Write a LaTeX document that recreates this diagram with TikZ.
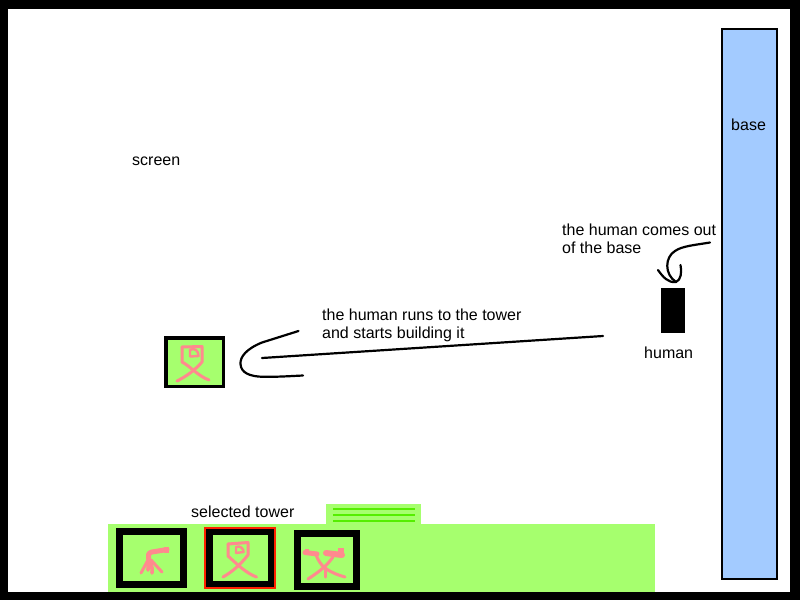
\documentclass[tikz,border=0pt]{standalone}
\usepackage{fontspec}
\setmainfont{Liberation Sans}
\definecolor{grassgreen}{HTML}{A6FF6E}
\definecolor{stripegreen}{HTML}{55EE00}
\definecolor{basefill}{HTML}{A3CBFF}
\definecolor{sketchpink}{HTML}{FF8A8E}
\definecolor{selred}{HTML}{FF2000}
\tikzset{
  lbl/.style={inner sep=0pt,anchor=base west,font=\fontsize{16}{16}\selectfont,text=black},
  towerbox/.style={draw=black,fill=grassgreen,line width=7pt},
  pencil/.style={draw=black,line width=2.2pt,line cap=round,line join=round},
  pinkline/.style={draw=sketchpink,line width=3pt,line cap=round,line join=round},
  pinkthick/.style={draw=sketchpink,line width=5pt,line cap=round,line join=round},
  stripe/.style={draw=stripegreen,line width=2pt}
}
\begin{document}
\begin{tikzpicture}[x=1pt,y=-1pt]
\useasboundingbox (0,0) rectangle (800,600);
% frame
\fill[black] (0,0) rectangle (800,600);
\fill[white] (8,9) rectangle (790,592);
% bar and tab
\fill[grassgreen] (108,524) rectangle (655,592);
\fill[grassgreen] (326,504) rectangle (421,524);
\draw[stripe] (333,508.5) -- (415,508.5);
\draw[stripe] (333,514.5) -- (415,514.5);
\draw[stripe] (333,521) -- (415,521);
% base
\node[draw=black,fill=basefill,line width=2pt,inner sep=0pt,minimum width=55pt,minimum height=550pt] (base) at (749.5,304) {};
% human
\node[fill=black,inner sep=0pt,minimum width=24pt,minimum height=45pt] (human) at (673,310.5) {};
% towers
\draw[towerbox] (119.5,531.5) rectangle (183.5,584.5);
\draw[towerbox] (209.5,531.5) rectangle (271,584.5);
\draw[selred,line width=2pt] (205,528) rectangle (275,588);
\draw[towerbox] (297.5,533.5) rectangle (356.5,586.5);
\draw[draw=black,fill=grassgreen,line width=3.5pt] (165.75,337.75) rectangle (223.25,386.25);
% tower 1 figure
\draw[pinkthick] (167,549.5) -- (155,551.5) .. controls (150,552) and (148,553) .. (148.5,557) -- (149,561);
\fill[sketchpink] (164,546.5) rectangle (169,552.5);
\draw[pinkline] (148,560) -- (141,573);
\draw[pinkthick,line width=3.6pt] (149,561) .. controls (148,565) and (148,568) .. (148,570);
\draw[pinkthick,line width=3.6pt] (150,562) .. controls (152,566) and (152.5,569) .. (152,573);
\draw[pinkline] (151,560) -- (162,572);
% tower 2 figure
\draw[pinkline] (228,544) -- (248,542.5) -- (248,555) .. controls (240,565) and (232,572) .. (223,577);
\draw[pinkline] (228,544) -- (228,556) .. controls (238,565) and (246,573) .. (256.5,577);
\draw[pinkline,line width=2.4pt] (236,553) -- (236,547) .. controls (240,545) and (244,549) .. (243.5,552) -- (236,553);
% screen tower figure
\draw[pinkline] (182,347) -- (202,346.5) -- (202,362) .. controls (195,370) and (187,376) .. (177,381);
\draw[pinkline] (182,347) -- (182,362) .. controls (190,366) and (198,376) .. (209,380);
\draw[pinkline,line width=2.4pt] (190,356.5) -- (190,350) .. controls (194,347) and (199,351) .. (198.5,356) -- (190,356.5);
% tower 3 figure
\draw[pinkthick] (305,552.5) -- (317,554);
\draw[pinkthick,line width=6pt] (326,553) -- (342,555);
\fill[sketchpink] (338,547.5) rectangle (344,556);
\fill[sketchpink] (305,549) rectangle (309,552);
\draw[pinkline] (316,555) .. controls (318,560) and (321,565) .. (325,568) .. controls (332,573) and (338,575) .. (345,577);
\draw[pinkline] (333,557) .. controls (328,564) and (322,570) .. (308,579);
\draw[pinkline] (325,568) -- (325,577);
% connector: out of the base
\coordinate (baseexit) at (710,242.5);
\coordinate (headleft) at (658,270);
\coordinate (headright) at (680.5,265);
\coordinate (tipa) at (676,282);
\draw[pencil] (baseexit) .. controls (695,245) and (682,246) .. (675,251) .. controls (665,257) and (664,274) .. (tipa);
\draw[pencil] (headleft) .. controls (663,277) and (668,283) .. (tipa) .. controls (681,280) and (682,272) .. (headright);
% connector: run to tower
\coordinate (runstart) at (603,336);
\coordinate (runend) at (262,358);
\coordinate (hooktop) at (298.5,331);
\coordinate (hookbot) at (303,375.5);
\draw[pencil] (runstart) -- (runend);
\draw[pencil] (hooktop) -- (262,342.5) .. controls (246,349) and (240,357) .. (240.5,364) .. controls (241,373) and (250,376.5) .. (263,376.8) .. controls (278,377) and (292,376) .. (hookbot);
% labels
\node[lbl] (screenlbl) at (132,165) {screen};
\node[lbl] (baselbl) at (731,130) {base};
\node[lbl] (comes) at (562,235) {the human comes out};
\node[lbl] (comes2) at (562,253) {of the base};
\node[lbl] (humanlbl) at (644,358) {human};
\node[lbl] (runs) at (322,320) {the human runs to the tower};
\node[lbl] (runs2) at (322,338) {and starts building it};
\node[lbl] (sel) at (191,517) {selected tower};
\end{tikzpicture}
\end{document}
